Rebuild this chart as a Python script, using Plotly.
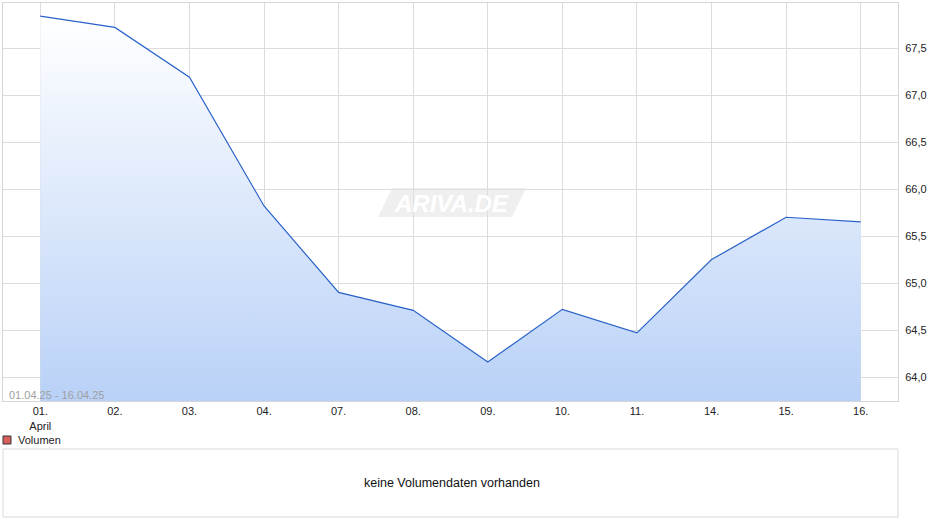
import plotly.graph_objects as go

# Kursdaten 01.04.25 - 16.04.25
tage = ['01.', '02.', '03.', '04.', '07.', '08.', '09.', '10.', '11.', '14.', '15.', '16.']
kurs = [67.84, 67.72, 67.19, 65.82, 64.90, 64.71, 64.16, 64.72, 64.47, 65.25, 65.70, 65.65]
y_ticks = [64.0, 64.5, 65.0, 65.5, 66.0, 66.5, 67.0, 67.5]
y_min, y_max = 63.745, 67.98

W, H = 940, 526
px = lambda v: v / W          # Pixel -> Papier (x)
py = lambda v: 1 - v / H      # Pixel -> Papier (y)

x_idx = list(range(len(tage)))
tick_text = [t + '<br>April' if i == 0 else t for i, t in enumerate(tage)]

fig = go.Figure()
fig.add_trace(go.Scatter(
    x=x_idx, y=kurs, mode='lines',
    line=dict(color='#2a62c9', width=1.2),
    fill='tozeroy',
    fillgradient=dict(type='vertical',
                      colorscale=[[0, '#b9d1f7'], [1, '#ffffff']],
                      start=y_min, stop=max(kurs)),
    hoverinfo='skip', showlegend=False))

fig.update_layout(
    width=W, height=H,
    paper_bgcolor='white', plot_bgcolor='white',
    margin=dict(l=0, r=0, t=0, b=0),
    separators=',.',
    font=dict(family='Liberation Sans, Arial, sans-serif', size=11, color='#222'),
    xaxis=dict(domain=[px(3), px(898)], range=[-0.5, len(tage) - 0.5],
               tickmode='array', tickvals=x_idx, ticktext=tick_text,
               showgrid=True, gridcolor='#dcdcdc', gridwidth=1,
               zeroline=False, showline=True, linecolor='#d6d6d6', mirror=True,
               ticks='', tickfont=dict(size=11, color='#222'), fixedrange=True),
    yaxis=dict(domain=[py(401), py(3)], range=[y_min, y_max], side='right',
               tickmode='array', tickvals=y_ticks, tickformat='.1f',
               showgrid=True, gridcolor='#dcdcdc', gridwidth=1,
               zeroline=False, showline=True, linecolor='#d6d6d6', mirror=True,
               ticks='', ticklabelstandoff=4, tickfont=dict(size=11, color='#222'),
               fixedrange=True),
)

shapes = [
    # Wasserzeichen-Hintergrund
    dict(type='path', xref='paper', yref='paper',
         path=f'M {px(378)} {py(217)} L {px(392)} {py(188)} L {px(526)} {py(188)} '
              f'L {px(512)} {py(217)} Z',
         fillcolor='rgba(225,225,225,0.55)', line=dict(width=0), layer='above'),
    # Volumen-Legende
    dict(type='rect', xref='paper', yref='paper',
         x0=px(3), x1=px(11), y0=py(444), y1=py(436),
         fillcolor='#d9605a', line=dict(color='#333', width=1)),
    # Volumen-Feld
    dict(type='rect', xref='paper', yref='paper',
         x0=px(3), x1=px(898), y0=py(517), y1=py(449),
         fillcolor='white', line=dict(color='#d9d9d9', width=1)),
]

annotations = [
    dict(text='<i><b>ARIVA.DE</b></i>', x=px(451), y=py(203), xref='paper', yref='paper',
         showarrow=False, font=dict(size=24, color='white', family='Liberation Sans, Arial'),
         xanchor='center', yanchor='middle'),
    dict(text='01.04.25 - 16.04.25', x=px(7), y=py(395), xref='paper', yref='paper',
         showarrow=False, font=dict(size=11, color='#a0a0a0'), xanchor='left', yanchor='middle'),
    dict(text='Volumen', x=px(16), y=py(440), xref='paper', yref='paper',
         showarrow=False, font=dict(size=11, color='#222'), xanchor='left', yanchor='middle'),
    dict(text='keine Volumendaten vorhanden', x=px(452), y=py(483), xref='paper', yref='paper',
         showarrow=False, font=dict(size=12.5, color='#111'), xanchor='center', yanchor='middle'),
]

fig.update_layout(shapes=shapes, annotations=annotations)
fig.write_html('out.html', config={'displayModeBar': False, 'staticPlot': True},
               post_script="document.body.style.margin='0';")
